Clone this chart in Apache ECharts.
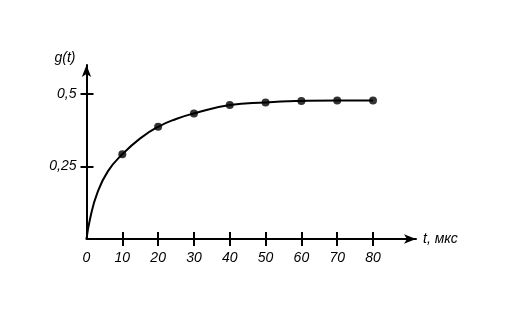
<!DOCTYPE html>
<html>
<head>
<meta charset="utf-8">
<script src="https://cdn.jsdelivr.net/npm/echarts@6/dist/echarts.min.js"></script>
<style>html,body{margin:0;padding:0;background:#fff}#c{width:510px;height:312px}</style>
</head>
<body>
<div id="c"></div>
<script>
// Data
var tickT = [10, 20, 30, 40, 50, 60, 70, 80];
var labelT = [0, 10, 20, 30, 40, 50, 60, 70, 80];
var tickG = [0.25, 0.5];
var dotT = [10, 20, 30, 40, 50, 60, 70, 80];
var dotG = [0.292, 0.387, 0.433, 0.462, 0.471, 0.476, 0.478, 0.478];
var curveT = [0, 1, 3, 6, 10, 15, 20, 25, 30, 40, 50, 60, 70, 80];
var curveG = [0, 0.07, 0.158, 0.234, 0.292, 0.347, 0.387, 0.414, 0.433, 0.462, 0.471, 0.476, 0.478, 0.478];
var xName = 't, мкс';
var yName = 'g(t)';

var font = '"Liberation Sans", Arial, sans-serif';
var chart = echarts.init(document.getElementById('c'), null, {renderer: 'canvas'});
var fmt = function (v) { return String(v).replace('.', ','); };

chart.setOption({
  animation: false,
  grid: {left: 86.5, top: 65, right: 94, bottom: 73, containLabel: false},
  xAxis: [{
    type: 'value', min: 0, max: 92, position: 'bottom',
    name: xName, nameLocation: 'end', nameGap: 7,
    nameTextStyle: {fontFamily: font, fontStyle: 'italic', fontSize: 14, color: '#000', align: 'left', verticalAlign: 'middle', padding: [16, 0, 0, 0]},
    axisLine: {show: true, lineStyle: {color: '#000', width: 2}, symbol: ['none', 'arrow'], symbolSize: [7, 12]},
    axisTick: {show: true, inside: false, length: 7, lineStyle: {color: '#000', width: 2}, customValues: tickT},
    axisLabel: {show: true, margin: 12, fontFamily: font, fontStyle: 'italic', fontSize: 14, color: '#000', customValues: labelT, formatter: fmt},
    splitLine: {show: false}
  }, {
    type: 'value', min: 0, max: 92, position: 'bottom',
    axisLine: {show: false},
    axisTick: {show: true, inside: true, length: 7, lineStyle: {color: '#000', width: 2}, customValues: tickT},
    axisLabel: {show: false},
    splitLine: {show: false}
  }],
  yAxis: [{
    type: 'value', min: 0, max: 0.6, position: 'left',
    name: yName, nameLocation: 'end', nameGap: 7,
    nameTextStyle: {fontFamily: font, fontStyle: 'italic', fontSize: 14, color: '#000', align: 'right', verticalAlign: 'middle', padding: [0, 11, 0, 0]},
    axisLine: {show: true, lineStyle: {color: '#000', width: 2}, symbol: ['none', 'arrow'], symbolSize: [7, 12]},
    axisTick: {show: true, inside: false, length: 6, lineStyle: {color: '#000', width: 2}, customValues: tickG},
    axisLabel: {show: true, margin: 10, fontFamily: font, fontStyle: 'italic', fontSize: 14, color: '#000', customValues: tickG, formatter: fmt},
    splitLine: {show: false}
  }, {
    type: 'value', min: 0, max: 0.6, position: 'left',
    axisLine: {show: false},
    axisTick: {show: true, inside: true, length: 7, lineStyle: {color: '#000', width: 2}, customValues: tickG},
    axisLabel: {show: false},
    splitLine: {show: false}
  }],
  series: [{
    type: 'line',
    data: curveT.map(function (t, i) { return [t, curveG[i]]; }),
    smooth: 0.5,
    showSymbol: false, symbol: 'none',
    lineStyle: {color: '#000', width: 2},
    silent: true, z: 2
  }, {
    type: 'scatter',
    data: dotT.map(function (t, i) { return [t, dotG[i]]; }),
    symbol: 'circle', symbolSize: 8,
    itemStyle: {color: '#000'},
    z: 3
  }]
});
</script>
</body>
</html>
